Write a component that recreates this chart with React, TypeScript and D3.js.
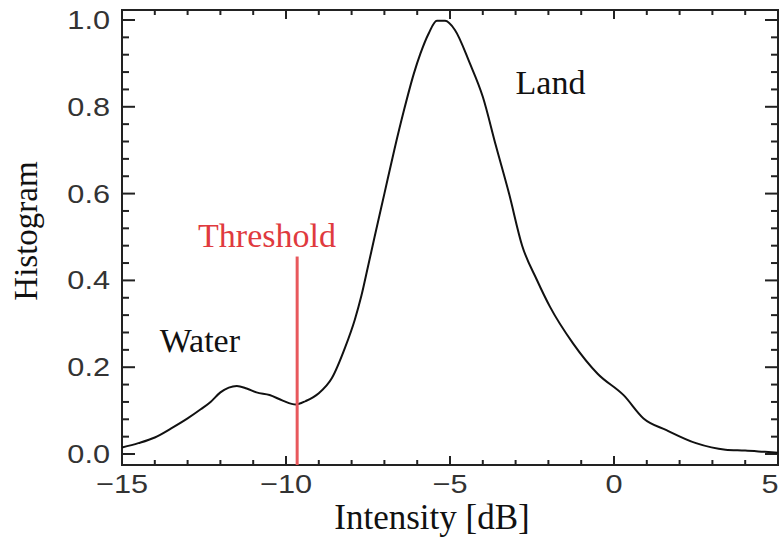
import React from "react";
import * as d3 from "d3";

const intensity = [-15, -14.5, -14, -13.5, -13, -12.6, -12.3, -12, -11.5, -11.2, -10.9, -10.5, -10.1, -9.7, -9.4, -9.0, -8.6, -8.2, -7.9, -7.7, -7.5, -7.3, -7.0, -6.7, -6.4, -6.1, -5.9, -5.65, -5.4, -5.15, -4.85, -4.4, -4.0, -3.6, -3.2, -2.8, -2.35, -1.95, -1.25, -0.5, 0.3, 0.9, 1.6, 2.5, 3.4, 4.0, 4.6, 5.0];
const histogram = [0.015, 0.025, 0.038, 0.059, 0.082, 0.103, 0.12, 0.142, 0.157, 0.151, 0.142, 0.136, 0.123, 0.114, 0.122, 0.14, 0.175, 0.245, 0.31, 0.365, 0.432, 0.5, 0.6, 0.7, 0.793, 0.877, 0.923, 0.969, 0.998, 0.998, 0.977, 0.901, 0.823, 0.71, 0.6, 0.48, 0.401, 0.339, 0.255, 0.185, 0.135, 0.082, 0.055, 0.025, 0.01, 0.008, 0.005, 0.003];
const thresholdValue = -9.66;
const xMajorTicks = [-15, -10, -5, 0, 5];
const xTickLabels = ["\u221215", "\u221210", "\u22125", "0", "5"];
const yMajorTicks = [0, 0.2, 0.4, 0.6, 0.8, 1.0];
const yTickLabels = ["0.0", "0.2", "0.4", "0.6", "0.8", "1.0"];
const annotations = [
  { text: "Water", x: -13.85, y: 0.235 },
  { text: "Land", x: -3.0, y: 0.83 },
];

const W = 784, H = 541;
const L = 122, R = 778, T = 10, B = 465;

export default function App() {
  const x = d3.scaleLinear().domain([-15, 5]).range([L, R]);
  const y = d3.scaleLinear().domain([-0.0253, 1.023]).range([B, T]);
  const xMinor = d3.range(-15, 5.001, 1);
  const yMinor = d3.range(0, 1.0201, 0.04);
  const pts = intensity.map((v, i) => [v, histogram[i]] as [number, number]);
  const line = d3.line<[number, number]>().x(d => x(d[0])).y(d => y(d[1])).curve(d3.curveMonotoneX);
  const sans = "'Liberation Sans', Arial, sans-serif";
  const serif = "'Liberation Serif', 'Times New Roman', serif";
  const isMajorX = (v: number) => Math.abs(v % 5) < 1e-6;
  const isMajorY = (v: number) => Math.abs(Math.round(v / 0.2) * 0.2 - v) < 1e-6;
  return (
    <svg width={W} height={H} style={{ position: "absolute", left: 0, top: 0, background: "#fff" }}>
      <rect x={0} y={0} width={W} height={H} fill="#fff" />
      <g stroke="#222" strokeWidth={2}>
        {xMinor.map((v, i) => {
          const len = isMajorX(v) ? 9 : 5;
          return (
            <g key={"xt" + i}>
              <line x1={x(v)} x2={x(v)} y1={B} y2={B - len} />
              <line x1={x(v)} x2={x(v)} y1={T} y2={T + len} />
            </g>
          );
        })}
        {yMinor.map((v, i) => {
          const len = isMajorY(v) ? 13 : 7;
          return (
            <g key={"yt" + i}>
              <line x1={L} x2={L + len} y1={y(v)} y2={y(v)} />
              <line x1={R} x2={R - len} y1={y(v)} y2={y(v)} />
            </g>
          );
        })}
      </g>
      <rect x={L} y={T} width={R - L} height={B - T} fill="none" stroke="#222" strokeWidth={2} />
      <path d={line(pts) || ""} fill="none" stroke="#111" strokeWidth={2} />
      <line x1={x(thresholdValue)} x2={x(thresholdValue)} y1={y(0.455)} y2={B} stroke="#e8585c" strokeWidth={3} />
      <text x={267} y={247} fontFamily={serif} fontSize={34} fill="#e03a3e" textAnchor="middle">Threshold</text>
      {annotations.map((a, i) => (
        <text key={"an" + i} x={x(a.x)} y={y(a.y)} fontFamily={serif} fontSize={34} fill="#111">{a.text}</text>
      ))}
      {xMajorTicks.map((v, i) => (
        <text key={"xl" + i} transform={`translate(${Math.min(x(v), 770)},493) scale(1.18,1)`} fontFamily={sans} fontSize={26} fill="#333" textAnchor="middle">{xTickLabels[i]}</text>
      ))}
      {yMajorTicks.map((v, i) => (
        <text key={"yl" + i} transform={`translate(110,${y(v) + 9}) scale(1.18,1)`} fontFamily={sans} fontSize={26} fill="#333" textAnchor="end">{yTickLabels[i]}</text>
      ))}
      <text x={432} y={529} fontFamily={serif} fontSize={35} fill="#111" textAnchor="middle">Intensity [dB]</text>
      <text transform="translate(37,231) rotate(-90)" fontFamily={serif} fontSize={33} fill="#111" textAnchor="middle">Histogram</text>
    </svg>
  );
}
